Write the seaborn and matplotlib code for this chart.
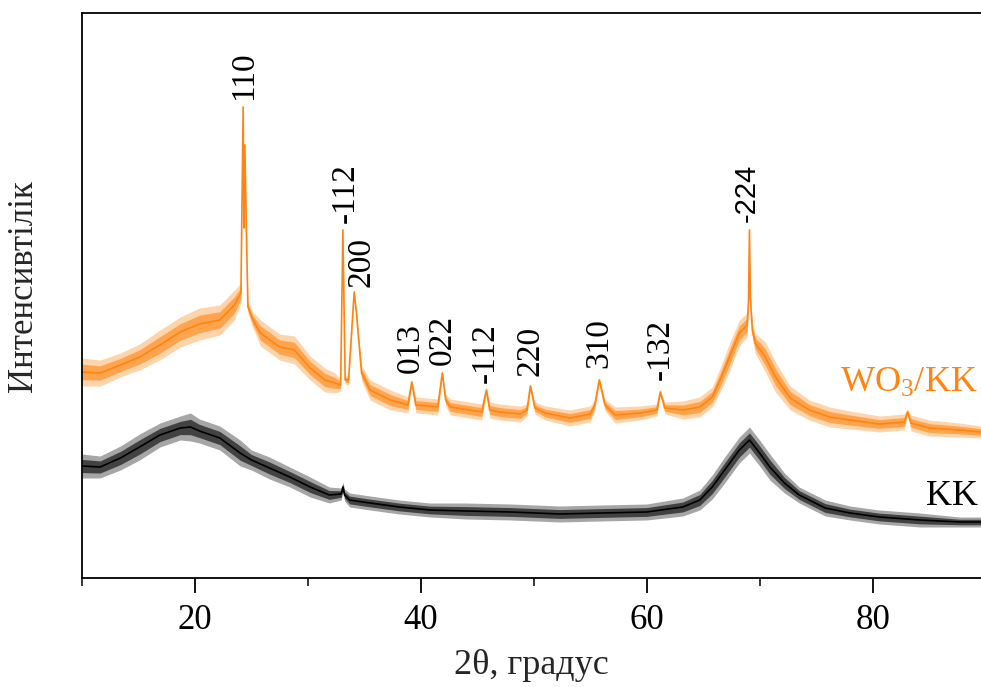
import matplotlib
matplotlib.use("Agg")
import matplotlib.pyplot as plt
import seaborn as sns
import pandas as pd
import numpy as np

# ---- data (intensity in arbitrary units) ----
wo3_2theta = [10.0, 11.6, 13.4, 15.1, 16.9, 18.7, 20.4, 22.2, 23.5, 24.07, 24.27, 24.34, 24.42,
              24.57, 24.69, 25.13, 25.8, 27.5, 28.8, 30.2, 31.5, 32.4, 32.9, 33.1, 33.3, 33.6,
              34.1, 34.3, 34.5, 34.75, 35.5, 37.3, 38.85, 39.2, 39.55, 41.5, 41.9, 42.2, 42.6,
              45.4, 45.8, 46.1, 47.0, 48.8, 49.4, 49.7, 50.1, 51.0, 53.2, 55.0, 55.4, 55.8,
              56.3, 57.2, 59.4, 60.9, 61.2, 61.6, 63.2, 64.7, 65.8, 66.5, 67.3, 68.2, 68.9,
              69.02, 69.1, 69.18, 69.35, 69.6, 70.5, 71.4, 72.7, 74.4, 76.2, 78.0, 80.6, 82.8,
              83.1, 83.4, 85.0, 87.7, 89.6]
wo3_counts = [206, 205, 213, 221, 233, 246, 254, 258, 273, 285, 471, 350, 433,
              338, 271, 258, 245, 231, 228, 210, 198, 195, 193, 348, 198, 198,
              286, 265, 238, 205, 188, 178, 173, 196, 173, 171, 205, 178, 171,
              166, 188, 168, 166, 164, 168, 192, 170, 165, 160, 164, 173, 198,
              173, 163, 165, 168, 186, 170, 168, 171, 181, 198, 220, 245, 253,
              278, 348, 281, 248, 235, 221, 201, 180, 168, 161, 158, 154, 156,
              166, 155, 150, 148, 146]
wo3_noise = [14, 13, 12, 13, 15, 15, 16, 15, 15, 10, 0, 0, 0,
             3, 6, 8, 13, 13, 14, 12, 12, 10, 6, 0, 4, 5,
             2, 3, 5, 8, 10, 10, 8, 2, 8, 8, 3, 6, 8,
             8, 3, 8, 8, 8, 6, 3, 6, 7, 8, 8, 6, 3,
             6, 8, 7, 6, 3, 6, 9, 10, 10, 12, 14, 13, 12,
             3, 0, 3, 8, 10, 15, 15, 12, 10, 10, 9, 8, 8,
             3, 8, 8, 7, 6]

kk_2theta = [10.0, 11.6, 13.4, 15.1, 16.9, 18.7, 19.6, 20.4, 22.2, 24.0, 25.0, 26.6, 28.4,
             30.2, 31.9, 32.95, 33.1, 33.25, 33.7, 35.5, 38.1, 40.8, 44.0, 48.0, 52.3, 56.0,
             60.0, 63.2, 64.7, 65.8, 66.9, 68.2, 69.1, 70.0, 70.9, 72.2, 73.5, 75.8, 78.0,
             80.6, 84.2, 87.7, 89.6]
kk_counts = [112, 111, 120, 131, 143, 150, 151, 147, 140, 125, 118, 110, 101,
             91, 83, 84, 91, 83, 78, 75, 71, 68, 67, 66, 64, 65,
             66, 71, 78, 91, 108, 128, 138, 125, 111, 95, 83, 70, 65,
             61, 58, 56, 56]
kk_noise = [12, 11, 12, 13, 12, 12, 14, 12, 12, 13, 10, 11, 10,
            10, 8, 6, 5, 6, 7, 7, 7, 7, 8, 8, 8, 8,
            8, 9, 10, 12, 13, 13, 13, 13, 13, 10, 8, 8, 7,
            7, 7, 5, 5]

peak_labels = ["110", "-112", "200", "013", "022", "-112", "220", "310", "-132", "-224"]
peak_label_x = [24.3, 33.3, 34.7, 39.1, 41.9, 45.7, 49.7, 55.75, 61.2, 68.9]
peak_label_y = [478, 355, 291, 205, 213, 195, 202, 210, 198, 356]

x_ticks = [20, 40, 60, 80]
x_minor_ticks = [10, 30, 50, 70]

ORANGE = "#FF8410"
BLACK = "#000000"

sns.set_style("ticks")
plt.rcParams["font.family"] = ["Liberation Serif", "DejaVu Serif"]
plt.rcParams["mathtext.default"] = "regular"

fig = plt.figure(figsize=(9.81, 6.87), dpi=100)
ax = fig.add_axes([82 / 981, 1 - 578 / 687, (981 - 82) / 981, (578 - 13) / 687])

df_wo3 = pd.DataFrame({"2theta": wo3_2theta, "counts": wo3_counts, "noise": wo3_noise})
df_kk = pd.DataFrame({"2theta": kk_2theta, "counts": kk_counts, "noise": kk_noise})

for df, col in [(df_kk, BLACK), (df_wo3, ORANGE)]:
    x = df["2theta"].to_numpy()
    y = df["counts"].to_numpy()
    n = df["noise"].to_numpy()
    ax.fill_between(x, y - n, y + n, color=col, alpha=0.35, lw=0)
    ax.fill_between(x, y - n * 0.55, y + n * 0.55, color=col, alpha=0.6, lw=0)
    sns.lineplot(data=df, x="2theta", y="counts", ax=ax, color=col, lw=1.2,
                 estimator=None, sort=False)

for lab, px, py in zip(peak_labels, peak_label_x, peak_label_y):
    fam = ["Liberation Sans"] if lab == "-224" else ["Liberation Serif"]
    fs = 21 if lab == "-224" else 24
    ax.text(px, py, lab, rotation=90, ha="center", va="bottom", fontsize=fs,
            family=fam, color="black")

ax.text(89.3, 186, "WO$_3$/KK", color=ORANGE, fontsize=26, ha="right", va="baseline")
ax.text(89.3, 73, "KK", color=BLACK, fontsize=26, ha="right", va="baseline")

ax.set_xlim(10, 89.6)
ax.set_ylim(0, 565)
ax.set_xticks(x_ticks)
ax.set_xticks(x_minor_ticks, minor=True)
ax.set_yticks([])
ax.tick_params(axis="x", which="major", direction="out", length=11, width=1.3,
               labelsize=25, pad=8, colors="black")
ax.tick_params(axis="x", which="minor", direction="out", length=6, width=1.3)
for s in ["left", "bottom", "top"]:
    ax.spines[s].set_linewidth(1.3)
    ax.spines[s].set_color("black")
ax.spines["right"].set_visible(False)

ax.set_xlabel("2θ, градус", fontsize=26, labelpad=8)
ax.set_ylabel("Интенсивтілік", fontsize=25)
ax.yaxis.set_label_coords(-0.047, 0.517)

fig.savefig("out.png", dpi=100)
